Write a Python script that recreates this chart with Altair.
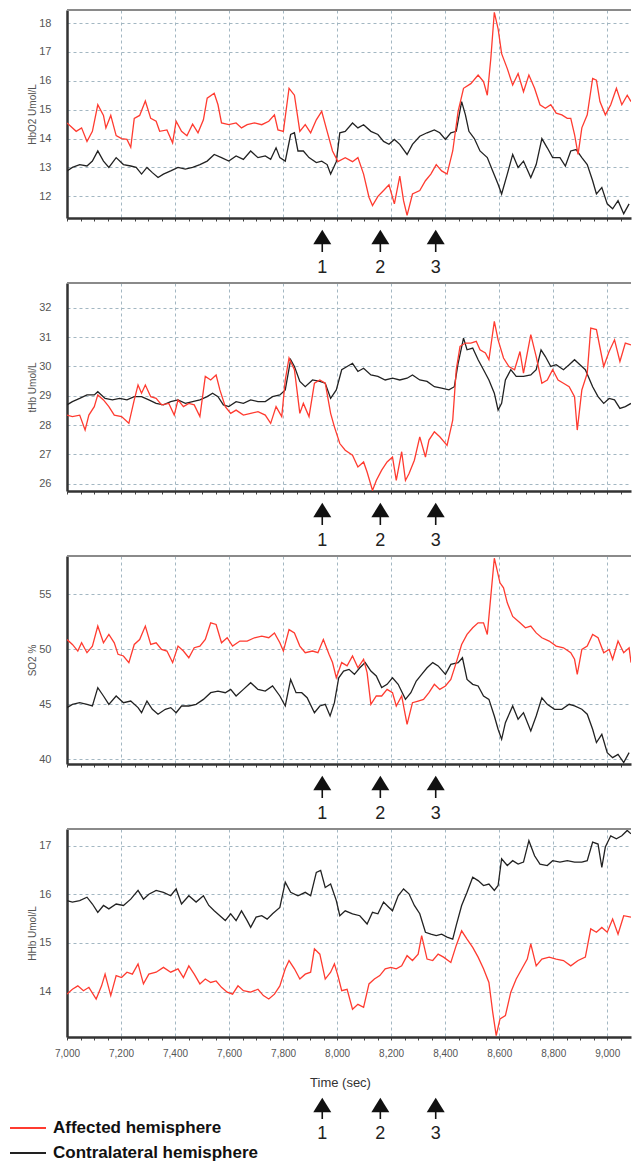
import altair as alt
import pandas as pd

RED = "#ff3b30"
BLACK = "#222222"
GRID = "#a3b7c2"

T0, T1 = 7000, 9088
arrow_times = [7945, 8160, 8365]
arrow_labels = ["1", "2", "3"]
legend_labels = ["Affected hemisphere", "Contralateral hemisphere"]
legend_colors = [RED, BLACK]

# ---------------- HbO2 ----------------
hbo2_aff_t = [7000, 7034, 7054, 7074, 7094, 7114, 7135, 7144, 7162, 7182, 7202, 7222, 7236, 7249, 7269, 7290, 7310, 7330, 7343, 7370,
              7391, 7404, 7424, 7444, 7465, 7485, 7505, 7519, 7545, 7559, 7572, 7599, 7626, 7646, 7667, 7694, 7721, 7747, 7768, 7781,
              7801, 7822, 7842, 7862, 7882, 7902, 7923, 7943, 7963, 7983, 8003, 8030, 8057, 8077, 8098, 8118, 8131, 8151, 8172, 8192,
              8212, 8232, 8246, 8259, 8279, 8306, 8327, 8347, 8367, 8387, 8407, 8428, 8448, 8468, 8495, 8522, 8542, 8556, 8569, 8582,
              8596, 8609, 8630, 8650, 8670, 8690, 8710, 8731, 8751, 8771, 8791, 8811, 8832, 8852, 8865, 8879, 8892, 8906, 8926, 8946,
              8960, 8973, 8993, 9013, 9034, 9054, 9074, 9088]
hbo2_aff_v = [14.54, 14.25, 14.37, 13.9, 14.25, 15.17, 14.8, 14.37, 14.8, 14.1, 14.0, 13.97, 13.7, 14.7, 14.8, 15.3, 14.7, 14.6, 14.25, 14.3,
              13.85, 14.6, 14.25, 14.1, 14.5, 14.2, 14.65, 15.4, 15.57, 15.17, 14.54, 14.48, 14.54, 14.37, 14.48, 14.54, 14.48, 14.6, 14.82, 14.3,
              14.25, 15.74, 15.5, 14.25, 14.48, 14.2, 14.65, 14.94, 14.25, 13.57, 13.2, 13.34, 13.2, 13.34, 12.77, 11.97, 11.68, 12.0, 12.2, 12.4,
              11.74, 12.7, 11.85, 11.34, 12.08, 12.2, 12.54, 12.77, 13.1, 12.88, 12.77, 13.57, 14.94, 15.74, 15.9, 16.2, 15.97, 15.5, 16.77, 18.37,
              17.8, 16.94, 16.42, 15.85, 16.25, 15.62, 16.2, 15.74, 15.17, 15.05, 15.17, 14.88, 14.82, 14.7, 14.7, 14.14, 13.45, 14.37, 14.82, 16.08,
              16.02, 15.28, 14.82, 15.17, 15.74, 15.17, 15.5, 15.28]
hbo2_con_t = [7000, 7020, 7047, 7074, 7094, 7114, 7135, 7155, 7182, 7209, 7236, 7256, 7276, 7296, 7316, 7337, 7357, 7384, 7411, 7438,
              7465, 7492, 7519, 7545, 7572, 7599, 7626, 7653, 7680, 7707, 7734, 7754, 7774, 7788, 7808, 7828, 7842, 7855, 7875, 7896,
              7923, 7943, 7963, 7976, 7997, 8010, 8030, 8057, 8077, 8098, 8125, 8151, 8172, 8192, 8212, 8232, 8259, 8279, 8306, 8333,
              8360, 8380, 8401, 8421, 8441, 8461, 8475, 8488, 8508, 8529, 8556, 8576, 8596, 8609, 8630, 8650, 8670, 8690, 8717, 8737,
              8758, 8778, 8798, 8825, 8845, 8865, 8885, 8906, 8926, 8946, 8960, 8980, 9000, 9020, 9040, 9061, 9081]
hbo2_con_v = [12.88, 13.0, 13.1, 13.05, 13.22, 13.57, 13.22, 13.0, 13.34, 13.1, 13.05, 13.0, 12.77, 13.0, 12.82, 12.65, 12.77, 12.88, 13.0, 12.94,
              13.0, 13.1, 13.22, 13.45, 13.34, 13.22, 13.4, 13.28, 13.57, 13.34, 13.4, 13.28, 13.68, 13.34, 13.22, 14.14, 14.2, 13.57, 13.57, 13.34,
              13.17, 13.22, 13.1, 12.77, 13.2, 14.2, 14.25, 14.54, 14.37, 14.48, 14.25, 14.14, 13.9, 13.8, 13.97, 13.8, 13.45, 13.8, 14.08, 14.2,
              14.3, 14.2, 13.97, 14.2, 14.25, 15.28, 14.82, 14.25, 14.0, 13.57, 13.34, 12.88, 12.42, 12.08, 12.77, 13.45, 13.0, 13.22, 12.65, 13.1,
              14.0, 13.68, 13.34, 13.34, 13.05, 13.57, 13.62, 13.34, 13.1, 12.54, 12.08, 12.3, 11.74, 11.57, 11.85, 11.4, 11.74]

# ---------------- tHb ----------------
thb_aff_t = [7000, 7020, 7047, 7067, 7081, 7101, 7114, 7135, 7155, 7175, 7202, 7229, 7249, 7263, 7276, 7290, 7310, 7330, 7350, 7377,
             7397, 7411, 7431, 7451, 7471, 7492, 7512, 7532, 7552, 7566, 7586, 7606, 7626, 7653, 7680, 7707, 7734, 7754, 7774, 7795,
             7808, 7822, 7842, 7862, 7875, 7896, 7916, 7936, 7956, 7976, 7990, 8010, 8030, 8057, 8077, 8098, 8111, 8131, 8145, 8165,
             8185, 8205, 8219, 8239, 8253, 8266, 8286, 8306, 8327, 8340, 8360, 8380, 8407, 8428, 8441, 8455, 8475, 8495, 8515, 8529,
             8549, 8562, 8582, 8596, 8616, 8636, 8657, 8677, 8690, 8717, 8737, 8758, 8778, 8798, 8818, 8838, 8859, 8879, 8889, 8906,
             8926, 8939, 8960, 8987, 9007, 9027, 9047, 9067, 9088]
thb_aff_v = [28.34, 28.29, 28.34, 27.83, 28.34, 28.63, 29.03, 28.86, 28.63, 28.34, 28.29, 28.06, 28.86, 29.37, 29.09, 29.37, 28.97, 28.91, 28.69, 28.74,
             28.34, 28.86, 28.63, 28.74, 28.69, 28.29, 29.66, 29.54, 29.71, 29.2, 28.63, 28.4, 28.51, 28.34, 28.4, 28.46, 28.34, 28.06, 28.63, 28.29,
             29.54, 30.29, 29.89, 28.4, 28.74, 28.29, 29.43, 29.54, 29.43, 28.4, 27.94, 27.37, 27.14, 26.97, 26.57, 26.74, 26.4, 25.77, 26.11, 26.46,
             26.74, 26.91, 26.11, 27.09, 26.11, 26.34, 26.8, 27.6, 26.91, 27.49, 27.77, 27.6, 27.31, 28.17, 29.89, 30.69, 30.8, 30.8, 30.86, 30.57,
             30.46, 30.23, 31.54, 30.91, 30.29, 30.0, 29.89, 30.51, 29.77, 31.09, 30.34, 29.43, 29.54, 29.89, 29.54, 29.43, 29.31, 28.97, 27.83, 29.2,
             29.77, 31.31, 31.26, 30.0, 30.51, 30.91, 30.17, 30.8, 30.74]
thb_con_t = [7000, 7020, 7047, 7074, 7101, 7114, 7141, 7168, 7195, 7222, 7249, 7276, 7303, 7330, 7357, 7384, 7411, 7438, 7465, 7492,
             7519, 7539, 7559, 7579, 7599, 7626, 7653, 7680, 7707, 7734, 7761, 7788, 7808, 7828, 7842, 7862, 7882, 7909, 7936, 7956,
             7976, 7997, 8017, 8037, 8057, 8077, 8098, 8125, 8151, 8178, 8205, 8232, 8259, 8279, 8306, 8333, 8360, 8387, 8414, 8434,
             8448, 8468, 8481, 8502, 8522, 8542, 8562, 8582, 8596, 8609, 8623, 8643, 8663, 8690, 8717, 8737, 8755, 8771, 8791, 8811,
             8838, 8859, 8879, 8899, 8919, 8946, 8966, 8987, 9007, 9027, 9047, 9067, 9088]
thb_con_v = [28.69, 28.8, 28.91, 29.03, 29.03, 29.14, 28.91, 28.86, 28.91, 28.86, 28.97, 28.97, 28.86, 28.74, 28.69, 28.8, 28.86, 28.74, 28.8, 28.86,
             28.97, 29.09, 28.97, 28.69, 28.63, 28.8, 28.74, 28.86, 28.8, 28.8, 28.97, 29.03, 29.2, 30.23, 30.0, 29.49, 29.31, 29.54, 29.49, 29.43,
             28.91, 29.2, 29.89, 30.0, 30.11, 29.83, 29.94, 29.71, 29.66, 29.54, 29.6, 29.54, 29.6, 29.71, 29.54, 29.49, 29.31, 29.26, 29.2, 29.31,
             30.11, 30.97, 30.57, 30.63, 30.23, 29.89, 29.54, 29.09, 28.51, 28.74, 29.54, 29.89, 29.66, 29.66, 29.71, 29.89, 30.57, 30.34, 30.0, 30.06,
             29.89, 30.06, 30.23, 30.06, 29.89, 29.31, 28.97, 28.74, 28.91, 28.86, 28.57, 28.63, 28.74]

# ---------------- SO2 ----------------
so2_aff_t = [7000, 7020, 7040, 7054, 7074, 7094, 7114, 7135, 7155, 7175, 7189, 7209, 7229, 7249, 7269, 7290, 7310, 7330, 7350, 7370,
             7391, 7411, 7431, 7451, 7471, 7492, 7512, 7532, 7552, 7572, 7593, 7613, 7640, 7667, 7694, 7721, 7747, 7768, 7788, 7801,
             7822, 7842, 7862, 7882, 7909, 7929, 7949, 7970, 7983, 7997, 8017, 8037, 8057, 8077, 8098, 8111, 8125, 8145, 8165, 8185,
             8205, 8219, 8239, 8259, 8279, 8300, 8320, 8340, 8360, 8380, 8401, 8421, 8441, 8461, 8481, 8502, 8522, 8542, 8556, 8569,
             8582, 8603, 8616, 8630, 8650, 8677, 8697, 8717, 8737, 8758, 8785, 8811, 8838, 8865, 8879, 8889, 8906, 8926, 8946, 8966,
             8987, 9007, 9020, 9040, 9061, 9081, 9088]
so2_aff_v = [50.9, 50.45, 49.85, 50.6, 49.7, 50.3, 52.12, 50.6, 51.36, 50.6, 49.55, 49.4, 48.8, 50.45, 50.9, 52.12, 50.45, 50.6, 50.0, 49.85,
             48.8, 50.3, 49.85, 49.24, 50.15, 50.3, 50.9, 52.42, 52.27, 50.6, 51.06, 50.3, 50.76, 50.76, 51.06, 51.2, 51.06, 51.5, 50.6, 49.85,
             51.8, 51.5, 50.3, 49.7, 49.85, 49.7, 50.9, 49.55, 48.8, 47.42, 48.8, 48.5, 49.4, 48.33, 49.1, 47.88, 45.0, 45.76, 45.76, 46.36,
             46.06, 44.85, 45.76, 43.18, 45.15, 45.3, 45.45, 46.06, 46.82, 46.36, 46.67, 47.27, 48.8, 50.45, 51.36, 51.97, 52.42, 52.42, 51.36, 54.85,
             58.3, 56.06, 55.6, 54.24, 53.0, 52.42, 51.97, 52.12, 51.5, 51.06, 50.76, 50.3, 50.15, 49.7, 49.1, 47.73, 50.0, 50.3, 51.36, 51.06,
             49.7, 50.0, 49.1, 50.76, 49.7, 50.15, 48.8]
so2_con_t = [7000, 7020, 7047, 7074, 7094, 7114, 7135, 7155, 7182, 7209, 7236, 7263, 7276, 7296, 7316, 7337, 7364, 7384, 7404, 7424,
             7451, 7478, 7505, 7532, 7559, 7586, 7606, 7626, 7653, 7680, 7707, 7734, 7761, 7788, 7808, 7828, 7848, 7869, 7889, 7916,
             7936, 7956, 7974, 7990, 8006, 8024, 8044, 8064, 8084, 8104, 8125, 8145, 8165, 8185, 8205, 8226, 8253, 8273, 8293, 8313,
             8333, 8354, 8374, 8401, 8421, 8448, 8464, 8481, 8502, 8522, 8542, 8562, 8582, 8596, 8609, 8623, 8650, 8670, 8690, 8717,
             8737, 8758, 8778, 8805, 8832, 8859, 8879, 8906, 8926, 8946, 8960, 8980, 9000, 9020, 9040, 9061, 9081]
so2_con_v = [44.7, 45.0, 45.15, 45.0, 44.85, 46.52, 45.76, 45.0, 45.76, 45.15, 45.3, 44.7, 44.24, 45.3, 44.55, 44.1, 44.55, 44.7, 44.24, 44.85,
             44.85, 45.0, 45.45, 46.06, 46.2, 46.06, 46.36, 45.76, 46.36, 46.97, 46.36, 46.2, 46.67, 45.76, 44.85, 47.27, 46.06, 46.06, 45.6, 44.24,
             44.85, 45.0, 43.94, 45.15, 47.42, 48.03, 48.18, 47.73, 48.33, 48.8, 48.03, 47.58, 46.52, 46.82, 47.42, 46.82, 45.45, 46.06, 47.12, 47.73,
             48.33, 48.8, 48.5, 47.73, 48.64, 48.8, 49.24, 47.27, 46.82, 46.67, 45.76, 45.45, 43.94, 42.73, 41.82, 43.33, 44.85, 43.64, 44.24, 42.58,
             43.94, 45.6, 45.0, 44.55, 44.55, 45.0, 44.85, 44.55, 44.1, 42.73, 41.52, 42.27, 40.6, 40.15, 40.45, 39.7, 40.6]

# ---------------- HHb ----------------
hhb_aff_t = [7000, 7020, 7040, 7061, 7081, 7108, 7128, 7141, 7162, 7182, 7202, 7222, 7242, 7263, 7283, 7303, 7330, 7357, 7384, 7411,
             7431, 7451, 7471, 7492, 7512, 7532, 7552, 7572, 7593, 7613, 7633, 7653, 7680, 7707, 7727, 7747, 7768, 7788, 7808, 7822,
             7842, 7862, 7882, 7902, 7916, 7936, 7956, 7976, 7990, 8003, 8017, 8037, 8057, 8077, 8098, 8118, 8138, 8158, 8178, 8199,
             8219, 8239, 8259, 8279, 8300, 8313, 8333, 8354, 8374, 8394, 8421, 8441, 8461, 8481, 8502, 8522, 8542, 8562, 8576, 8589,
             8603, 8623, 8643, 8663, 8684, 8704, 8717, 8737, 8758, 8785, 8811, 8838, 8865, 8892, 8919, 8939, 8960, 8980, 9000, 9020,
             9040, 9061, 9088]
hhb_aff_v = [13.95, 14.05, 14.12, 14.02, 14.09, 13.85, 14.12, 14.36, 13.92, 14.33, 14.29, 14.4, 14.36, 14.57, 14.16, 14.36, 14.4, 14.5, 14.4, 14.47,
             14.29, 14.53, 14.36, 14.16, 14.26, 14.19, 14.22, 14.09, 13.99, 13.95, 14.12, 14.02, 13.99, 14.05, 13.92, 13.85, 13.95, 14.12, 14.47, 14.64,
             14.47, 14.26, 14.36, 14.4, 14.88, 14.77, 14.26, 14.4, 14.57, 14.33, 14.02, 14.05, 13.64, 13.74, 13.68, 14.16, 14.26, 14.33, 14.47, 14.5,
             14.47, 14.53, 14.74, 14.64, 14.77, 15.15, 14.67, 14.64, 14.77, 14.71, 14.6, 14.95, 15.25, 15.08, 14.91, 14.71, 14.47, 14.19, 13.58, 13.1,
             13.44, 13.51, 13.99, 14.26, 14.47, 14.67, 14.98, 14.53, 14.67, 14.71, 14.67, 14.64, 14.53, 14.64, 14.71, 15.29, 15.22, 15.32, 15.22, 15.49,
             15.18, 15.56, 15.53]
hhb_con_t = [7000, 7020, 7047, 7074, 7094, 7114, 7135, 7155, 7182, 7209, 7236, 7263, 7283, 7303, 7330, 7357, 7384, 7404, 7424, 7451,
             7478, 7505, 7525, 7545, 7566, 7586, 7606, 7626, 7646, 7667, 7680, 7700, 7721, 7741, 7761, 7788, 7808, 7828, 7855, 7882,
             7902, 7923, 7939, 7956, 7976, 7997, 8010, 8030, 8057, 8084, 8111, 8131, 8151, 8172, 8192, 8205, 8226, 8246, 8266, 8286,
             8306, 8327, 8347, 8367, 8387, 8407, 8428, 8441, 8461, 8481, 8502, 8522, 8542, 8562, 8582, 8596, 8609, 8630, 8650, 8670,
             8690, 8710, 8731, 8751, 8778, 8798, 8825, 8852, 8879, 8906, 8926, 8946, 8966, 8980, 8993, 9013, 9034, 9054, 9074, 9088]
hhb_con_v = [15.87, 15.84, 15.87, 15.94, 15.8, 15.63, 15.77, 15.7, 15.8, 15.77, 15.9, 16.08, 15.9, 16.0, 16.08, 16.04, 15.97, 16.11, 15.8, 15.97,
             15.84, 15.97, 15.77, 15.66, 15.56, 15.46, 15.6, 15.46, 15.66, 15.46, 15.32, 15.53, 15.56, 15.49, 15.6, 15.73, 16.25, 16.04, 15.97, 16.04,
             15.97, 16.45, 16.49, 16.14, 16.21, 15.87, 15.56, 15.66, 15.6, 15.56, 15.39, 15.63, 15.6, 15.84, 15.73, 15.66, 15.97, 16.11, 16.01, 15.77,
             15.6, 15.22, 15.18, 15.15, 15.18, 15.12, 15.08, 15.36, 15.77, 16.04, 16.35, 16.28, 16.18, 16.21, 16.08, 16.18, 16.73, 16.59, 16.69, 16.62,
             16.66, 17.1, 16.79, 16.62, 16.59, 16.69, 16.66, 16.69, 16.66, 16.66, 16.69, 17.07, 17.03, 16.55, 16.97, 17.2, 17.14, 17.2, 17.31, 17.24]

W, H = 564, 208
FONT = "Liberation Sans"
XSCALE = alt.Scale(domain=[T0, T1], nice=False, zero=False)
X_TICKS = list(range(7000, 9051, 50))
GRID_200 = {"condition": {"test": "datum.value % 200 === 0", "value": 1}, "value": 0}


def bottom_axis(show_labels):
    kw = dict(values=X_TICKS, grid=True, gridColor=GRID, gridDash=[3, 3], gridWidth=1,
              gridOpacity=GRID_200, domainColor="#333333", domainWidth=2.5,
              ticks=True, tickSize=3, tickColor="#444444", tickWidth=1,
              labelOverlap=False, labelFlush=False)
    if show_labels:
        kw.update(labels=True,
                  labelExpr="datum.value % 200 === 0 ? format(datum.value, ',') : ''",
                  labelFontSize=10, labelColor="#555555", labelPadding=8,
                  title="Time (sec)", titleFontSize=13, titleFontWeight="normal",
                  titleColor="#333333", titleX=273, titleY=45, titleBaseline="middle")
    else:
        kw.update(labels=False, title="")
    return alt.Axis(**kw)


def panel(ytitle, ydom, yticks, aff_t, aff_v, con_t, con_v, last):
    yscale = alt.Scale(domain=ydom, nice=False, zero=False)
    con = pd.DataFrame({"t": con_t, "v": con_v})
    aff = pd.DataFrame({"t": aff_t, "v": aff_v})
    xaxis = bottom_axis(last)
    yaxis = alt.Axis(values=yticks, grid=True, gridColor=GRID, gridDash=[3, 3], gridWidth=1,
                     domainColor="#333333", domainWidth=2.5, ticks=False,
                     labelOverlap=False, labelFontSize=11, labelColor="#555555", labelPadding=16,
                     title=ytitle, titleFontSize=10, titleFontWeight="normal", titleColor="#555555",
                     titleX=-35, titleY=104, titleBaseline="middle", titleAngle=270)
    black = alt.Chart(con).mark_line(color=BLACK, strokeWidth=1.3, clip=True).encode(
        x=alt.X("t:Q", scale=XSCALE, axis=xaxis),
        y=alt.Y("v:Q", scale=yscale, axis=yaxis))
    red = alt.Chart(aff).mark_line(color=RED, strokeWidth=1.3, clip=True).encode(
        x=alt.X("t:Q", scale=XSCALE, axis=xaxis),
        y=alt.Y("v:Q", scale=yscale, axis=yaxis))

    # top frame line of the plot area
    one = pd.DataFrame({"a": [0]})
    top = alt.Chart(one).mark_rule(color="#8a8a8a", strokeWidth=2).encode(
        x=alt.value(0), x2=alt.value(W), y=alt.value(0))

    arr = pd.DataFrame({"t": arrow_times, "lab": arrow_labels})
    if last:
        head_y, stem_y1, stem_y2, num_y = H + 68, H + 75, H + 82, H + 97
    else:
        head_y, stem_y1, stem_y2, num_y = H + 19, H + 25, H + 34, H + 50
    heads = alt.Chart(arr).mark_point(shape="M -1 0.8 L 0 -0.8 L 1 0.8 Z", filled=True, size=324,
                                      color="#111111", opacity=1, strokeWidth=0).encode(
        x=alt.X("t:Q", scale=XSCALE, axis=xaxis), y=alt.value(head_y))
    stems = alt.Chart(arr).mark_rule(color="#111111", strokeWidth=1.6).encode(
        x=alt.X("t:Q", scale=XSCALE, axis=xaxis),
        y=alt.value(stem_y1), y2=alt.value(stem_y2))
    nums = alt.Chart(arr).mark_text(fontSize=18, color="#222222", baseline="middle", font=FONT).encode(
        x=alt.X("t:Q", scale=XSCALE, axis=xaxis),
        y=alt.value(num_y), text="lab:N")

    layers = [black, red, top, heads, stems, nums]
    if last:
        for i, (lab, col) in enumerate(zip(legend_labels, legend_colors)):
            yy = 299 + 25 * i
            layers.append(alt.Chart(one).mark_rule(color=col, strokeWidth=2).encode(
                x=alt.value(-57), x2=alt.value(-21), y=alt.value(yy)))
            layers.append(alt.Chart(one).mark_text(text=lab, align="left", baseline="middle",
                                                   fontSize=17, fontWeight="bold", color="#111111",
                                                   font=FONT).encode(
                x=alt.value(-14), y=alt.value(yy)))
    return alt.layer(*layers).properties(width=W, height=H)


p1 = panel("HbO2 Umol/L", [11.25, 18.45], [12, 13, 14, 15, 16, 17, 18],
           hbo2_aff_t, hbo2_aff_v, hbo2_con_t, hbo2_con_v, False)
p2 = panel("tHb Umol/L", [25.75, 32.85], [26, 27, 28, 29, 30, 31, 32],
           thb_aff_t, thb_aff_v, thb_con_t, thb_con_v, False)
p3 = panel("SO2 %", [39.57, 58.5], [40, 45, 50, 55],
           so2_aff_t, so2_aff_v, so2_con_t, so2_con_v, False)
p4 = panel("HHb Umol/L", [13.07, 17.34], [14, 15, 16, 17],
           hhb_aff_t, hhb_aff_v, hhb_con_t, hhb_con_v, True)

chart = alt.vconcat(p1, p2, p3, p4, spacing=65, bounds="flush").resolve_scale(
    y="independent"
).properties(
    padding={"left": 9, "top": 9, "right": 0, "bottom": 0},
    background="white"
).configure(font=FONT).configure_view(stroke=None)

chart.save("out.html", embed_options={"renderer": "svg", "actions": False})
